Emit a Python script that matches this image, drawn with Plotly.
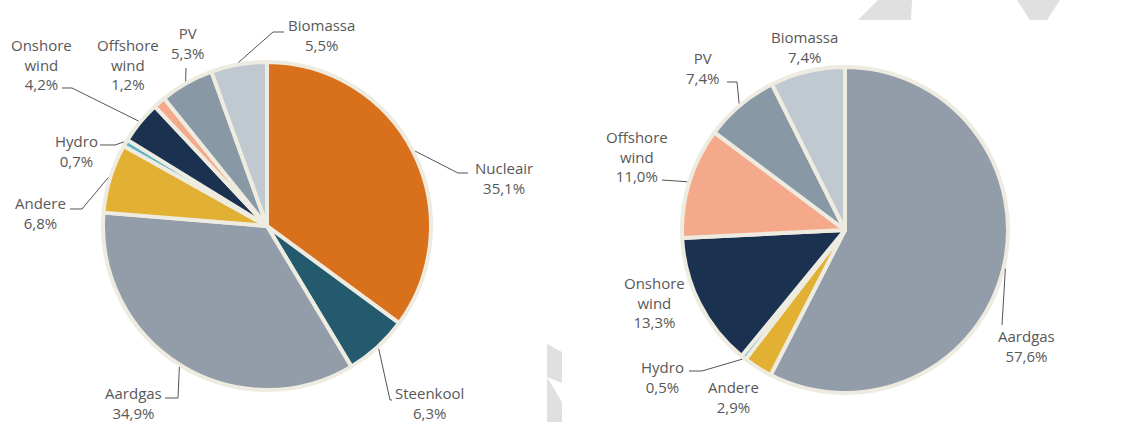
import math
import plotly.graph_objects as go

W, H = 1137, 422

# left pie (current mix)
labels_left = ['Nucleair', 'Steenkool', 'Aardgas', 'Andere', 'Hydro',
               'Onshore wind', 'Offshore wind', 'PV', 'Biomassa']
values_left = [35.1, 6.3, 34.9, 6.8, 0.7, 4.2, 1.2, 5.3, 5.5]

# right pie (scenario)
labels_right = ['Aardgas', 'Andere', 'Hydro', 'Onshore wind',
                'Offshore wind', 'PV', 'Biomassa']
values_right = [57.6, 2.9, 0.5, 13.3, 11.0, 7.4, 7.4]

colors = {
    'Nucleair': '#D9711C',
    'Steenkool': '#245A6D',
    'Aardgas': '#939DAA',
    'Andere': '#E2B033',
    'Hydro': '#5BB3C4',
    'Onshore wind': '#1A3250',
    'Offshore wind': '#F4AA8A',
    'PV': '#8899A5',
    'Biomassa': '#C0C8D0',
}
border = '#EEEBE1'
text_col = '#585858'

# pie geometry in pixels: center x, center y, radius
pies = [
    dict(labels=labels_left, values=values_left, cx=267, cy=226, r=164),
    dict(labels=labels_right, values=values_right, cx=845, cy=230, r=163),
]

# label placement: text center, and leader points after the slice anchor
label_pos = [
    {
        'Nucleair': ((504, 178), [(458, 173), (468, 173)]),
        'Steenkool': ((429, 403), [(390, 400), (392, 400)]),
        'Aardgas': ((133, 403), [(178, 398), (165, 398)]),
        'Andere': ((40, 213), [(82, 209), (70, 209)]),
        'Hydro': ((76, 151), [(115, 145), (100, 145)]),
        'Onshore wind': ((41, 65), [(72, 88), (62, 88)]),
        'Offshore wind': ((128, 65), None),
        'PV': ((187, 43), [(186, 68)]),
        'Biomassa': ((321, 35), [(273, 32), (284, 32)]),
    },
    {
        'Aardgas': ((1026, 346), [(1002, 325)]),
        'Andere': ((733, 397), None),
        'Hydro': ((662, 377), [(702, 371), (689, 371)]),
        'Onshore wind': ((654, 302), None),
        'Offshore wind': ((637, 156), [(662, 180)]),
        'PV': ((703, 68), [(737, 82), (727, 82)]),
        'Biomassa': ((804, 47), None),
    },
]


def px(x, y):
    return x / W, 1 - y / H


def path_of(pts, close=False):
    s = ' '.join(('M' if i == 0 else 'L') + '%.5f,%.5f' % px(a, b)
                 for i, (a, b) in enumerate(pts))
    return s + (' Z' if close else '')


fig = go.Figure()
annotations = []
shapes = []

for p, pos in zip(pies, label_pos):
    x0, y1 = px(p['cx'] - p['r'], p['cy'] - p['r'])
    x1, y0 = px(p['cx'] + p['r'], p['cy'] + p['r'])
    fig.add_trace(go.Pie(
        labels=p['labels'], values=p['values'],
        marker=dict(colors=[colors[l] for l in p['labels']],
                    line=dict(color=border, width=4)),
        sort=False, direction='clockwise', rotation=0,
        textinfo='none', hoverinfo='label+percent',
        domain=dict(x=[x0, x1], y=[y0, y1]),
        showlegend=False,
    ))

    total = sum(p['values'])
    cum = 0
    for lab, val in zip(p['labels'], p['values']):
        mid = (cum + val / 2) / total * 2 * math.pi
        cum += val
        ax = p['cx'] + (p['r'] + 2) * math.sin(mid)
        ay = p['cy'] - (p['r'] + 2) * math.cos(mid)
        (tx, ty), leader = pos[lab]
        txt = lab.replace(' ', '<br>') + '<br>' + f'{val:.1f}'.replace('.', ',') + '%'
        xx, yy = px(tx, ty)
        annotations.append(dict(
            x=xx, y=yy, xref='paper', yref='paper', text=txt,
            showarrow=False, xanchor='center', yanchor='middle',
            font=dict(size=15, color=text_col, family='Open Sans'),
        ))
        if leader:
            shapes.append(dict(type='path', path=path_of([(ax, ay)] + leader),
                               xref='paper', yref='paper',
                               line=dict(color='#555555', width=1)))

# faint watermark pieces
wm = '#E0E0E0'
for poly in [
    [(547, 344), (562, 352), (562, 383), (547, 377)],
    [(547, 377), (562, 402), (562, 422), (547, 422)],
    [(878, 0), (912, 0), (911, 20), (858, 20)],
    [(1017, 0), (1060, 0), (1047, 20), (1030, 20)],
]:
    shapes.append(dict(type='path', path=path_of(poly, True), xref='paper', yref='paper',
                       fillcolor=wm, line=dict(width=0), layer='below'))

fig.update_layout(
    width=W, height=H,
    margin=dict(l=0, r=0, t=0, b=0),
    paper_bgcolor='white', plot_bgcolor='white',
    annotations=annotations, shapes=shapes,
    font=dict(family='Open Sans', color=text_col),
)

fig.write_html("out.html", config={'displayModeBar': False},
               post_script="document.body.style.margin = '0';")
